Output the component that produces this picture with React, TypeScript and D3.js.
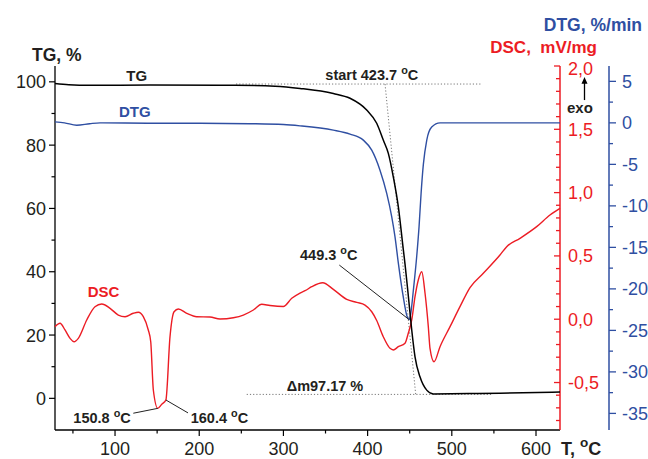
import React from 'react';
import * as d3 from 'd3';

// ---------- data ----------
const tgTemp = [28.7, 45, 70.3, 141.6, 242.5, 290, 319.7, 359.3, 379.1, 398.9, 410.8, 418.6, 424.6, 430.5, 436.5, 442.4, 444.4, 448.3, 452.4, 456.3, 462.2, 470.2, 478.0, 520, 557.2, 628.5];
const tgValue = [99.5, 99.1, 98.9, 99.0, 98.9, 98.6, 97.9, 96.3, 94.8, 91.1, 86.9, 81.6, 77.4, 70.0, 60.5, 47.0, 42.5, 32.5, 21.6, 13.1, 6.8, 2.6, 1.4, 1.5, 1.6, 2.0];

const dtgTemp = [28.7, 40, 54.5, 70, 82.2, 141.6, 201, 260, 300, 319.7, 359.3, 379.1, 394.9, 404.9, 414.7, 422.7, 428.6, 432.5, 436.5, 442.4, 447.1, 449.3, 451.2, 454.3, 458.3, 461.1, 463.5, 466.2, 470.2, 476.1, 486, 628.5];
const dtgValue = [0.12, 0.0, -0.28, -0.1, 0, -0.05, -0.05, -0.1, -0.2, -0.36, -0.88, -1.36, -2.08, -3.29, -5.7, -8.5, -11.3, -13.7, -16.9, -21.0, -23.4, -23.7, -23.0, -20.2, -16.1, -12.5, -8.5, -5.0, -2.1, -0.5, 0, 0];

const dscTemp = [28.7, 34.7, 40.6, 46.6, 51.3, 56.4, 66.4, 76.2, 84.2, 94.1, 103.9, 111.9, 121.7, 127.7, 133.6, 139.5, 142.4, 145.5, 150.8, 155.5, 160.4, 165.3, 170.1, 175.2, 185.2, 197.0, 212.8, 224.7, 240.5, 252.4, 264.3, 274.2, 284.1, 299.9, 309.9, 319.7, 325.7, 333.6, 346.7, 359.3, 375.2, 387.1, 396.9, 404.9, 410.8, 418.6, 426.6, 430.5, 436.5, 444.4, 448.3, 452.4, 456.3, 460.2, 464.3, 468.2, 472.1, 474.1, 478.9, 486.0, 497.9, 509.7, 521.6, 537.4, 557.2, 565.2, 581.0, 600.8, 616.6, 628.5];
const dscValue = [-0.059, -0.032, -0.085, -0.151, -0.178, -0.151, -0.006, 0.099, 0.120, 0.086, 0.033, 0.020, 0.047, 0.055, 0.020, -0.085, -0.178, -0.559, -0.704, -0.672, -0.638, -0.138, 0.059, 0.081, 0.047, 0.020, 0.017, 0.002, 0.012, 0.033, 0.073, 0.118, 0.108, 0.100, 0.165, 0.207, 0.225, 0.257, 0.288, 0.236, 0.157, 0.133, 0.112, 0.059, -0.010, -0.138, -0.230, -0.243, -0.217, -0.190, -0.111, -0.006, 0.178, 0.310, 0.375, 0.205, -0.059, -0.230, -0.336, -0.217, -0.059, 0.099, 0.250, 0.363, 0.507, 0.573, 0.639, 0.731, 0.823, 0.876];

const xTicks = [100, 200, 300, 400, 500, 600];
const xMinorTicks = [50, 150, 250, 350, 450, 550];
const tgTicks = [0, 20, 40, 60, 80, 100];
const tgMinorTicks = [10, 30, 50, 70, 90];
const dscTicks = [-0.5, 0.0, 0.5, 1.0, 1.5, 2.0];
const dscMinorTicks = d3.range(-8, 21).map((d) => d / 10);
const dtgTicks = [-35, -30, -25, -20, -15, -10, -5, 0, 5];
const dtgMinorTicks = d3.range(-35, 7.5, 2.5);

// annotation anchors in data units
const onsetTemp = 423.7;
const peakTemp = 449.3;
const dscMin1 = 150.8;
const dscMin2 = 160.4;
const massLoss = '97.17';

// ---------- styles ----------
const FONT = '"Liberation Sans", Arial, Helvetica, sans-serif';
const RED = '#ec1c24';
const BLUE = '#2f4fa2';
const TXT = '#231f20';

const W = 648, H = 459;
const L = 55, R = 560, TOP = 66, BOT = 430, DTGX = 609;

function Deg({ x, y, pre, size, color, anchor }: any) {
  return (
    <text x={x} y={y} fontSize={size} fontWeight="bold" fill={color || TXT} textAnchor={anchor || 'start'} fontFamily={FONT} style={{ whiteSpace: 'pre' }}>
      {pre}
      <tspan dy={-size * 0.42} fontSize={size * 0.75}>o</tspan>
      <tspan dy={size * 0.42}>C</tspan>
    </text>
  );
}

export default function App() {
  const x = d3.scaleLinear().domain([28.7, 628.5]).range([L, R]);
  const yTG = d3.scaleLinear().domain([-10, 105]).range([BOT, TOP]);
  const yDSC = d3.scaleLinear().domain([-0.875, 2.0]).range([BOT, TOP]);
  const yDTG = d3.scaleLinear().domain([-37.0, 6.85]).range([BOT, TOP]);

  const mk = (ts: number[], vs: number[], ys: any) =>
    d3.line<number>().x((_, i) => x(ts[i])).y((v) => ys(v)).curve(d3.curveMonotoneX)(vs) || '';

  const tgPath = mk(tgTemp, tgValue, yTG);
  const dtgPath = mk(dtgTemp, dtgValue, yDTG);
  const dscPath = mk(dscTemp, dscValue, yDSC);

  const fmtComma = (d: number) => d.toFixed(1).replace('.', ',');
  const isMajor = (d: number) => Math.abs(d * 2 - Math.round(d * 2)) < 1e-6;

  const dscMin1V = dscValue[dscTemp.indexOf(dscMin1)];
  const dscMin2V = dscValue[dscTemp.indexOf(dscMin2)];
  const dtgPeakV = dtgValue[dtgTemp.indexOf(peakTemp)];

  return (
    <svg width={W} height={H} style={{ position: 'absolute', left: 0, top: 0, background: '#fff' }} fontFamily={FONT}>
      {/* left TG axis */}
      <line x1={L} x2={L} y1={TOP} y2={BOT} stroke="#000" strokeWidth={1.3} />
      {tgTicks.map((t) => (
        <g key={'tg' + t}>
          <line x1={L - 6} x2={L} y1={yTG(t)} y2={yTG(t)} stroke="#000" strokeWidth={1.2} />
          <text x={L - 9} y={yTG(t)} dy="0.36em" textAnchor="end" fontSize={18} fill={TXT}>{t}</text>
        </g>
      ))}
      {tgMinorTicks.map((t) => (
        <line key={'tgm' + t} x1={L - 3.5} x2={L} y1={yTG(t)} y2={yTG(t)} stroke="#000" strokeWidth={1.2} />
      ))}
      <text x={32} y={61} fontSize={17.5} fontWeight="bold" fill={TXT}>TG, %</text>

      {/* x axis */}
      <line x1={L} x2={R} y1={BOT} y2={BOT} stroke="#000" strokeWidth={1.3} />
      {xTicks.map((t) => (
        <g key={'x' + t}>
          <line x1={x(t)} x2={x(t)} y1={BOT} y2={BOT + 6} stroke="#000" strokeWidth={1.2} />
          <text x={x(t)} y={455} textAnchor="middle" fontSize={18} fill={TXT}>{t}</text>
        </g>
      ))}
      {xMinorTicks.map((t) => (
        <line key={'xm' + t} x1={x(t)} x2={x(t)} y1={BOT} y2={BOT + 3.5} stroke="#000" strokeWidth={1.2} />
      ))}
      <Deg x={561} y={455} pre={'T, '} size={18} />

      {/* DSC axis (red) */}
      <line x1={R} x2={R} y1={TOP} y2={BOT} stroke={RED} strokeWidth={1.5} />
      {dscMinorTicks.map((t) => (
        <line key={'dm' + t} x1={R - (isMajor(t) ? 6 : 4)} x2={R} y1={yDSC(t)} y2={yDSC(t)} stroke={RED} strokeWidth={1.3} />
      ))}
      {dscTicks.map((t) => (
        <text key={'d' + t} x={568} y={yDSC(t)} dy={t === 2.0 ? '0.5em' : '0.36em'} fontSize={18} fill={RED}>{fmtComma(t)}</text>
      ))}
      <text x={597} y={53} textAnchor="end" fontSize={17} fontWeight="bold" fill={RED} style={{ whiteSpace: 'pre' }}>{'DSC,  mV/mg'}</text>

      {/* DTG axis (blue) */}
      <line x1={DTGX} x2={DTGX} y1={TOP} y2={BOT} stroke={BLUE} strokeWidth={1.5} />
      {dtgMinorTicks.map((t) => (
        <line key={'bm' + t} x1={DTGX} x2={DTGX + (t % 5 === 0 ? 7 : 4)} y1={yDTG(t)} y2={yDTG(t)} stroke={BLUE} strokeWidth={1.3} />
      ))}
      {dtgTicks.map((t) => (
        <text key={'b' + t} x={622} y={yDTG(t)} dy="0.36em" fontSize={18} fill={BLUE}>{t}</text>
      ))}
      <text x={642} y={31} textAnchor="end" fontSize={17.5} fontWeight="bold" fill={BLUE}>DTG, %/min</text>

      {/* exo arrow */}
      <line x1={584.5} x2={584.5} y1={yDSC(1.731)} y2={yDSC(1.87)} stroke="#000" strokeWidth={1.3} />
      <path d={`M${584.5},${yDSC(1.913)} L${581.5},${yDSC(1.86)} L${587.5},${yDSC(1.86)} Z`} fill="#000" />
      <text x={567} y={yDSC(1.631)} fontSize={15} fontWeight="bold" fill={TXT}>exo</text>

      {/* onset construction (dotted) */}
      <line x1={x(243.7)} x2={x(535.9)} y1={yTG(99.3)} y2={yTG(99.3)} stroke="#777" strokeWidth={1} strokeDasharray="1.2,2" />
      <line x1={x(420.7)} x2={x(457.2)} y1={yTG(99.3)} y2={yTG(1.0)} stroke="#777" strokeWidth={1} strokeDasharray="1.2,2" />
      <line x1={x(256.4)} x2={x(547.4)} y1={yTG(1.25)} y2={yTG(1.25)} stroke="#777" strokeWidth={1} strokeDasharray="1.2,2" />

      {/* curves */}
      <path d={dscPath} fill="none" stroke={RED} strokeWidth={1.4} />
      <path d={dtgPath} fill="none" stroke={BLUE} strokeWidth={1.4} />
      <path d={tgPath} fill="none" stroke="#000" strokeWidth={1.5} />

      {/* curve labels */}
      <text x={x(125.8)} y={yTG(100.2)} textAnchor="middle" fontSize={15} fontWeight="bold" fill={TXT}>TG</text>
      <text x={x(123.4)} y={yTG(88.8)} textAnchor="middle" fontSize={15} fontWeight="bold" fill={BLUE}>DTG</text>
      <text x={x(86.3)} y={yTG(31.9)} textAnchor="middle" fontSize={15} fontWeight="bold" fill={RED}>DSC</text>

      {/* annotations */}
      <Deg x={x(349.8)} y={yTG(100.5)} pre={`start ${onsetTemp} `} size={14.5} />
      <Deg x={x(319.7)} y={yTG(43.7)} pre={`${peakTemp} `} size={14.5} />
      <line x1={x(366.4)} y1={yTG(42.1)} x2={x(peakTemp)} y2={yDTG(dtgPeakV)} stroke="#222" strokeWidth={1} />
      <text x={x(303.9)} y={yTG(2.3)} fontSize={14.5} fontWeight="bold" fill={TXT}>{`Δm${massLoss} %`}</text>
      <Deg x={x(50.5)} y={yTG(-7.7)} pre={`${dscMin1} `} size={14.5} />
      <line x1={x(121.7)} y1={yTG(-4.7)} x2={x(dscMin1)} y2={yDSC(dscMin1V)} stroke="#222" strokeWidth={1} />
      <Deg x={x(189.9)} y={yTG(-7.7)} pre={`${dscMin2} `} size={14.5} />
      <line x1={x(dscMin2)} y1={yDSC(dscMin2V)} x2={x(186.7)} y2={yTG(-4.6)} stroke="#222" strokeWidth={1} />
    </svg>
  );
}
